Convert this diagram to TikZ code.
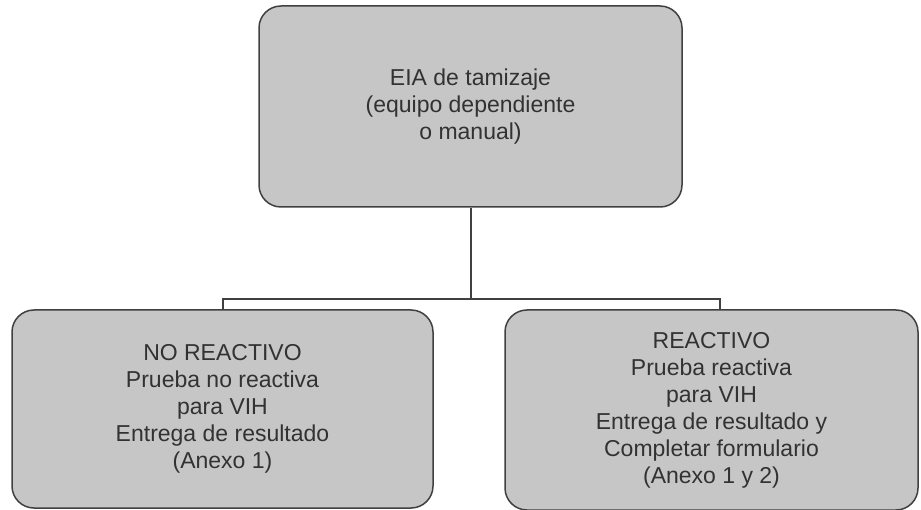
\documentclass[tikz,border=0pt]{standalone}
\usepackage{fontspec}
\setmainfont{Liberation Sans}
\usepackage{tikz}
\usetikzlibrary{positioning}
\usepackage{xcolor}
\definecolor{fondo}{RGB}{198,198,198}
\definecolor{borde}{RGB}{64,64,64}
\definecolor{letra}{RGB}{50,50,50}

\tikzset{caja/.style={draw=borde,fill=fondo,line width=1.5pt,rounded corners=22pt,inner sep=0pt,
align=center,text=letra,font=\fontsize{23}{27}\selectfont},
conector/.style={draw=borde,line width=2pt}}

\begin{document}
\begin{tikzpicture}[x=1pt,y=-1pt]
\useasboundingbox (0,0) rectangle (921,510);
\node[caja,minimum width=423pt,minimum height=201pt] (eia) at (470.5,106.5) {EIA de tamizaje\\(equipo dependiente\\o manual)} ;
\node[caja,minimum width=421pt,minimum height=198pt] (noreac) at (222.5,409) {NO REACTIVO\\Prueba no reactiva\\para VIH\\Entrega de resultado\\(Anexo 1)} ;
\node[caja,minimum width=413pt,minimum height=200pt] (reac) at (711.5,410) {REACTIVO\\Prueba reactiva\\para VIH\\Entrega de resultado y\\Completar formulario\\(Anexo 1 y 2)} ;
% conectores
\draw[conector] (eia.south) -- ++(0,91) coordinate (rama) ;
\draw[conector] (rama) -| (noreac.north) ;
\draw[conector] (rama) -| ([xshift=8.5pt]reac.north) ;
\end{tikzpicture}
\end{document}
